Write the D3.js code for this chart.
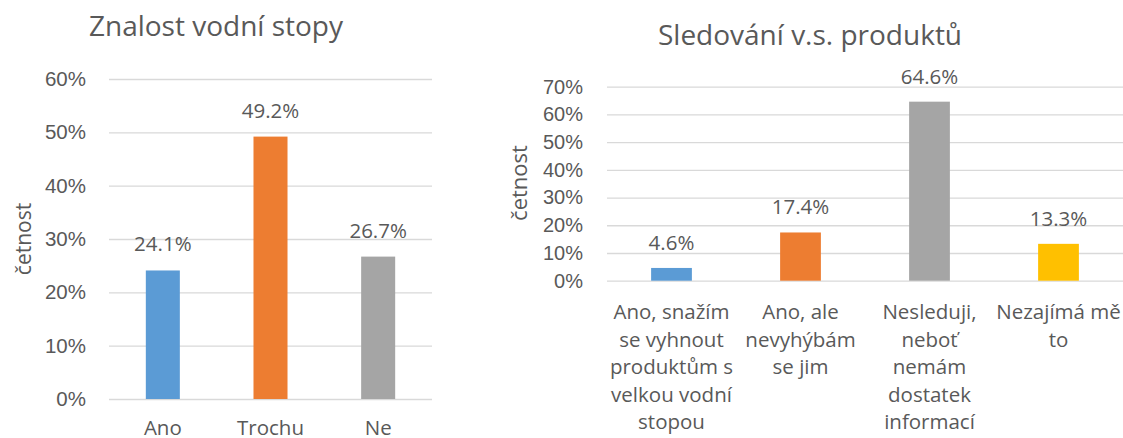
<!DOCTYPE html>
<html>
<head>
<meta charset="utf-8">
<script src="https://cdn.jsdelivr.net/npm/d3@7"></script>
<style>
  body { margin: 0; background: #fff; }
  svg { display: block; font-family: "Open Sans", Carlito, Lato, sans-serif; }
  .grid line { stroke: #d9d9d9; stroke-width: 1.3; }
  .grid .domain { display: none; }
  text { fill: #595959; }
</style>
</head>
<body>
<svg id="chart" width="1123" height="438"></svg>
<script>
'use strict';

// Znalost vodní stopy
const knowCategories = ['Ano', 'Trochu', 'Ne'];
const knowValues = [0.241, 0.492, 0.267];
const knowTicks = [0, 0.1, 0.2, 0.3, 0.4, 0.5, 0.6];

// Sledování v.s. produktů
const trackCategories = [
    'Ano, snažím\nse vyhnout\nproduktům s\nvelkou vodní\nstopou',
    'Ano, ale\nnevyhýbám\nse jim',
    'Nesleduji,\nneboť\nnemám\ndostatek\ninformací',
    'Nezajímá mě\nto'
];
const trackValues = [0.046, 0.174, 0.646, 0.133];
const trackTicks = [0, 0.1, 0.2, 0.3, 0.4, 0.5, 0.6, 0.7];

const colors = ['#5b9bd5', '#ed7d31', '#a5a5a5', '#ffc000'];
const pct = d3.format('.0%');
const pct1 = d3.format('.1%');

const svg = d3.select('#chart');

function draw_chart(opt) {
    const {categories, values, ticks, left, right, bottom, top, title} = opt;
    const g = svg.append('g');

    const x = d3.scaleBand().domain(categories).range([left, right])
        .paddingInner(0.684).paddingOuter(0.342);
    const y = d3.scaleLinear().domain([0, ticks[ticks.length - 1]]).range([bottom, top]);

    const yAxis = d3.axisLeft(y)
        .tickValues(ticks)
        .tickFormat(pct)
        .tickSizeInner(-(right - left))
        .tickSizeOuter(0)
        .tickPadding(opt.tickPadding);
    const ax = g.append('g')
        .attr('class', 'grid')
        .attr('transform', `translate(${left},0)`)
        .call(yAxis);
    ax.selectAll('text')
        .style('font-size', opt.tickSize + 'px')
        .style('font-family', 'inherit')
        .attr('fill', '#595959');

    g.selectAll('.bar')
        .data(values)
        .enter().append('rect')
        .attr('class', 'bar')
        .attr('x', (d, i) => x(categories[i]))
        .attr('width', x.bandwidth())
        .attr('y', d => y(d))
        .attr('height', d => y(0) - y(d))
        .attr('fill', (d, i) => colors[i]);

    g.selectAll('.value')
        .data(values)
        .enter().append('text')
        .attr('class', 'value')
        .attr('x', (d, i) => x(categories[i]) + x.bandwidth() / 2)
        .attr('y', d => y(d) - opt.labelGap)
        .attr('text-anchor', 'middle')
        .style('font-size', opt.labelSize + 'px')
        .text(d => pct1(d));

    const cat = g.selectAll('.cat')
        .data(categories)
        .enter().append('text')
        .attr('class', 'cat')
        .attr('text-anchor', 'middle')
        .attr('transform', d => `translate(${x(d) + x.bandwidth() / 2},${opt.catY})`)
        .style('font-size', opt.catSize + 'px');
    cat.selectAll('tspan')
        .data(d => d.split('\n'))
        .enter().append('tspan')
        .attr('x', 0)
        .attr('y', (d, i) => i * opt.catLine)
        .text(d => d);

    g.append('text')
        .attr('x', title.x)
        .attr('y', title.y)
        .attr('text-anchor', 'middle')
        .style('font-size', title.size + 'px')
        .text(title.text);

    g.append('text')
        .attr('transform', `translate(${opt.axisTitle.x},${opt.axisTitle.y}) rotate(-90)`)
        .attr('text-anchor', 'middle')
        .style('font-size', opt.axisTitle.size + 'px')
        .text('četnost');
}

draw_chart({
    categories: knowCategories, values: knowValues, ticks: knowTicks,
    left: 109, right: 432, bottom: 399, top: 79,
    tickPadding: 23, tickSize: 20.5,
    labelGap: 19, labelSize: 20.5,
    catY: 435, catLine: 27, catSize: 20.5,
    title: {text: 'Znalost vodní stopy', x: 216, y: 36, size: 28},
    axisTitle: {x: 31, y: 239, size: 21}
});

draw_chart({
    categories: trackCategories, values: trackValues, ticks: trackTicks,
    left: 607, right: 1123, bottom: 280.7, top: 86.7,
    tickPadding: 24, tickSize: 20,
    labelGap: 18, labelSize: 20.5,
    catY: 319, catLine: 27.6, catSize: 20.5,
    title: {text: 'Sledování v.s. produktů', x: 810, y: 45, size: 28},
    axisTitle: {x: 527, y: 183, size: 22}
});
</script>
</body>
</html>
